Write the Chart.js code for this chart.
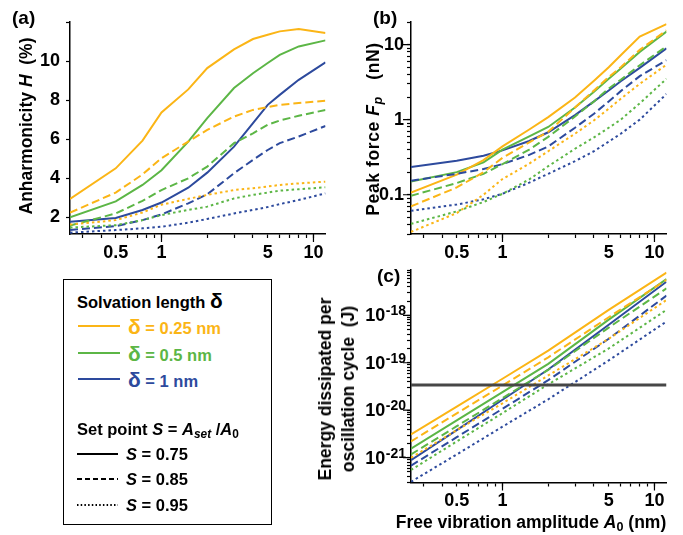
<!DOCTYPE html>
<html>
<head>
<meta charset="utf-8">
<script src="https://cdn.jsdelivr.net/npm/chart.js@4.4.1/dist/chart.umd.min.js"></script>
<style>
  body { margin: 0; background: #fff; }
  #page { position: relative; width: 683px; height: 535px; overflow: hidden;
          font-family: "Liberation Sans", Arial, Helvetica, sans-serif; font-weight: bold; color: #000; }
  canvas { position: absolute; }
  .t { position: absolute; white-space: nowrap; line-height: 1; transform: translate(0, -50%); }
  .c { transform: translate(-50%, -50%); }
  .rot { transform: translate(-50%, -50%) rotate(-90deg); text-align: center; }
  .panel { font-size: 19px; }
  .title { font-size: 17.5px; }
  .leg { font-size: 16.5px; }
  .dl { font-size: 21px; }
  sub { font-size: 72%; vertical-align: -3px; line-height: 0; }
  #legend { position: absolute; left: 63px; top: 279px; width: 209px; height: 246px;
            border: 1.5px solid #000; box-sizing: border-box; }
  svg.sample { position: absolute; overflow: visible; }
</style>
</head>
<body>
<div id="page">
  <canvas id="chartH" width="340" height="268" style="left:0;top:0"></canvas>
  <canvas id="chartF" width="343" height="268" style="left:340px;top:0"></canvas>
  <canvas id="chartE" width="343" height="287" style="left:340px;top:248px"></canvas>

  <div class="t panel" style="left:12px;top:17px">(a)</div>
  <div class="t panel" style="left:373px;top:17px">(b)</div>
  <div class="t panel" style="left:377px;top:275px">(c)</div>

  <div class="t title rot" style="left:27px;top:126px">Anharmonicity <i>H</i>&nbsp; (%)</div>
  <div class="t title rot" style="left:374px;top:129px;letter-spacing:0.6px">Peak force&nbsp;<i>F<sub>p</sub></i>&nbsp;&nbsp; (nN)</div>
  <div class="t title rot" style="left:337px;top:389px;line-height:23px">Energy dissipated per<br>oscillation cycle&nbsp; (J)</div>
  <div class="t title c" style="left:531px;top:523px">Free vibration amplitude <i>A</i><sub>0</sub> (nm)</div>

  <div id="legend"></div>
  <div class="t leg" style="left:77px;top:300px">Solvation length <span class="dl">&delta;</span></div>
  <svg class="sample" style="left:0;top:0" width="1" height="1">
    <line x1="78" y1="326" x2="120" y2="326" stroke="#FBB516" stroke-width="2"/>
    <line x1="78" y1="353" x2="120" y2="353" stroke="#5CB646" stroke-width="2"/>
    <line x1="78" y1="379" x2="120" y2="379" stroke="#2D4A9D" stroke-width="2"/>
    <line x1="77" y1="454" x2="118" y2="454" stroke="#000" stroke-width="2"/>
    <line x1="77" y1="479" x2="118" y2="479" stroke="#000" stroke-width="2" stroke-dasharray="5 3"/>
    <line x1="77" y1="505" x2="118" y2="505" stroke="#000" stroke-width="2" stroke-dasharray="1.5 2.2"/>
  </svg>
  <div class="t leg" style="left:128px;top:326px;color:#FBB516"><span class="dl">&delta;</span> = 0.25 nm</div>
  <div class="t leg" style="left:128px;top:353px;color:#5CB646"><span class="dl">&delta;</span> = 0.5 nm</div>
  <div class="t leg" style="left:128px;top:379px;color:#2D4A9D"><span class="dl">&delta;</span> = 1 nm</div>
  <div class="t leg" style="left:77px;top:429px">Set point <i>S</i> = <i>A<sub>set</sub></i> /<i>A</i><sub>0</sub></div>
  <div class="t leg" style="left:126px;top:454px"><i>S</i> = 0.75</div>
  <div class="t leg" style="left:126px;top:479px"><i>S</i> = 0.85</div>
  <div class="t leg" style="left:126px;top:505px"><i>S</i> = 0.95</div>
</div>

<script>
// free vibration amplitude A0 (nm) at which the curves are sampled
const amplitude = [0.25, 0.5, 0.75, 1, 1.5, 2, 3, 4, 5, 6, 8, 12];
const amplitudeEnergy = [0.25, 0.5, 1, 2, 5, 12];

// (a) anharmonicity H (%)
const H_d025_S075 = [2.94, 4.51, 5.93, 7.37, 8.55, 9.64, 10.6, 11.13, 11.35, 11.52, 11.64, 11.44];
const H_d05_S075  = [2.0, 2.82, 3.66, 4.41, 5.88, 7.08, 8.62, 9.38, 9.9, 10.32, 10.75, 11.06];
const H_d1_S075   = [1.78, 1.97, 2.38, 2.76, 3.52, 4.29, 5.62, 6.82, 7.76, 8.27, 9.04, 9.93];
const H_d025_S085 = [2.24, 3.27, 4.2, 5.03, 5.88, 6.48, 7.16, 7.5, 7.64, 7.76, 7.85, 7.97];
const H_d05_S085  = [1.58, 2.2, 2.85, 3.4, 4.0, 4.6, 5.8, 6.3, 6.74, 6.96, 7.2, 7.5];
const H_d1_S085   = [1.36, 1.55, 1.86, 2.15, 2.72, 3.18, 4.26, 4.94, 5.45, 5.8, 6.14, 6.68];
const H_d025_S095 = [1.63, 1.86, 2.25, 2.65, 2.95, 3.15, 3.4, 3.49, 3.58, 3.66, 3.74, 3.83];
const H_d05_S095  = [1.48, 1.6, 1.86, 2.12, 2.38, 2.55, 2.97, 3.15, 3.27, 3.37, 3.44, 3.54];
const H_d1_S095   = [1.22, 1.35, 1.44, 1.52, 1.73, 1.92, 2.2, 2.38, 2.53, 2.68, 2.89, 3.23];

// (b) peak force Fp (nN)
const F_d025_S075 = [0.107, 0.185, 0.29, 0.44, 0.74, 1.08, 1.97, 3.3, 5.0, 7.2, 12.8, 18.7];
const F_d05_S075  = [0.15, 0.2, 0.27, 0.40, 0.6, 0.8, 1.45, 2.35, 3.5, 4.8, 8.0, 14.9];
const F_d1_S075   = [0.234, 0.284, 0.33, 0.39, 0.52, 0.68, 1.15, 1.75, 2.45, 3.25, 4.9, 8.9];
const F_d025_S085 = [0.07, 0.125, 0.2, 0.31, 0.5, 0.69, 1.45, 2.45, 3.7, 5.0, 8.5, 15.5];
const F_d05_S085  = [0.097, 0.143, 0.19, 0.256, 0.4, 0.59, 1.1, 1.75, 2.6, 3.4, 5.3, 9.5];
const F_d1_S085   = [0.154, 0.19, 0.22, 0.256, 0.34, 0.44, 0.78, 1.2, 1.75, 2.4, 3.8, 6.2];
const F_d025_S095 = [0.032, 0.057, 0.1, 0.162, 0.26, 0.38, 0.65, 0.98, 1.4, 1.9, 3.0, 5.4];
const F_d05_S095  = [0.041, 0.06, 0.08, 0.103, 0.16, 0.24, 0.41, 0.58, 0.78, 1.0, 1.65, 3.5];
const F_d1_S095   = [0.061, 0.074, 0.087, 0.103, 0.145, 0.19, 0.28, 0.38, 0.51, 0.65, 1.0, 2.2];

// (c) energy dissipated per oscillation cycle (J)
const E_d025_S075 = [3.1e-21, 1.19e-20, 4.6e-20, 1.8e-19, 1.3e-18, 7.9e-18];
const E_d05_S075  = [1.55e-21, 6.1e-21, 2.4e-20, 9.5e-20, 8.1e-19, 5.8e-18];
const E_d1_S075   = [8.9e-22, 3.8e-21, 1.66e-20, 7.2e-20, 6.3e-19, 5.1e-18];
const E_d025_S085 = [2.2e-21, 8.6e-21, 3.3e-20, 1.3e-19, 9.1e-19, 5.6e-18];
const E_d05_S085  = [1.17e-21, 4.6e-21, 1.8e-20, 7.1e-20, 5.5e-19, 3.7e-18];
const E_d1_S085   = [6.8e-22, 2.7e-21, 1.07e-20, 4.3e-20, 3.2e-19, 2.6e-18];
const E_d025_S095 = [1.0e-21, 3.8e-21, 1.4e-20, 5.4e-20, 3.2e-19, 2.1e-18];
const E_d05_S095  = [5.5e-22, 2.2e-21, 8.7e-21, 3.5e-20, 2.0e-19, 1.3e-18];
const E_d1_S095   = [3.1e-22, 1.17e-21, 4.5e-21, 1.7e-20, 1.12e-19, 7.4e-19];
const energyLevel = 3.4e-20;   // horizontal reference line

// axis ticks and labels
const amplitudeTicks = [0.3, 0.4, 0.5, 0.6, 0.7, 0.8, 0.9, 1, 2, 3, 4, 5, 6, 7, 8, 9, 10];
const amplitudeTickLabels = [0.5, 1, 5, 10];
const hTicks = [2, 4, 6, 8, 10, 12];
const hTickLabels = [2, 4, 6, 8, 10];
const forceTicks = [0.03, 0.04, 0.05, 0.06, 0.07, 0.08, 0.09, 0.1, 0.2, 0.3, 0.4, 0.5, 0.6, 0.7, 0.8, 0.9,
                    1, 2, 3, 4, 5, 6, 7, 8, 9, 10, 20];
const forceTickLabels = [0.1, 1, 10];
const energyTickLabels = [1e-21, 1e-20, 1e-19, 1e-18];

const FONT = '"Liberation Sans", Arial, Helvetica, sans-serif';
const YELLOW = '#FBB516', GREEN = '#5CB646', BLUE = '#2D4A9D';
const SOLID = [], DASHED = [8, 4], DOTTED = [2.5, 3];

// minor ticks of the energy axis: 1..9 x 10^n inside the axis range
const energyMin = 3e-22, energyMax = 9e-18;
const energyTicks = [];
for (let e = -22; e <= -18; e++) {
  for (let m = 1; m <= 9; m++) {
    const v = m * Math.pow(10, e);
    if (v >= energyMin * 0.999 && v <= energyMax * 1.001) energyTicks.push(v);
  }
}

function isDecade(v) {
  const l = Math.log10(v);
  return Math.abs(l - Math.round(l)) < 1e-6;
}

function line(xs, ys, color, dash) {
  return {
    data: xs.map((x, i) => ({ x: x, y: ys[i] })),
    borderColor: color,
    borderWidth: 2,
    borderDash: dash,
    borderCapStyle: 'butt',
    pointRadius: 0,
    fill: false,
    tension: 0
  };
}

function tickFont() {
  return { family: FONT, size: 18, weight: 'bold' };
}

// longer tick marks at the decades of log axes
const majorTickPlugin = {
  id: 'majorTicks',
  afterDraw(chart) {
    const ctx = chart.ctx, x = chart.scales.x, y = chart.scales.y;
    ctx.save();
    ctx.strokeStyle = '#000';
    ctx.lineWidth = 1.2;
    ctx.beginPath();
    x.ticks.forEach(t => {
      if (isDecade(t.value)) {
        const px = x.getPixelForValue(t.value);
        ctx.moveTo(px, x.top);
        ctx.lineTo(px, x.top + 8);
      }
    });
    if (y.type === 'logarithmic') {
      y.ticks.forEach(t => {
        if (isDecade(t.value)) {
          const py = y.getPixelForValue(t.value);
          ctx.moveTo(y.right, py);
          ctx.lineTo(y.right - 8, py);
        }
      });
    }
    ctx.stroke();
    ctx.restore();
  }
};

function makeChart(id, datasets, cfg) {
  return new Chart(document.getElementById(id), {
    type: 'line',
    data: { datasets: datasets },
    options: {
      responsive: false,
      animation: false,
      layout: { padding: cfg.padding },
      plugins: { legend: { display: false }, tooltip: { enabled: false } },
      scales: {
        x: {
          type: 'logarithmic',
          min: 0.25,
          max: 12,
          afterBuildTicks: s => { s.ticks = amplitudeTicks.map(v => ({ value: v })); },
          afterFit: s => { s.height = cfg.xHeight; },
          border: { display: true, color: '#000', width: 1.5 },
          grid: { drawOnChartArea: false, drawTicks: true, tickLength: 4, tickColor: '#000', tickWidth: 1.2 },
          ticks: {
            autoSkip: false, maxRotation: 0, padding: 4, color: '#000', font: tickFont(),
            callback: v => amplitudeTickLabels.includes(v) ? String(v) : ''
          }
        },
        y: {
          type: cfg.yType,
          min: cfg.yMin,
          max: cfg.yMax,
          afterBuildTicks: s => { s.ticks = cfg.yTicks.map(v => ({ value: v })); },
          afterFit: s => { s.width = cfg.yWidth; },
          border: { display: true, color: '#000', width: 1.5 },
          grid: { drawOnChartArea: false, drawTicks: true, tickLength: 4, tickColor: '#000', tickWidth: 1.2 },
          ticks: {
            autoSkip: false, padding: cfg.yPad, color: '#000', font: tickFont(),
            callback: v => cfg.yLabels.includes(v) ? String(v) : ''
          }
        }
      }
    },
    plugins: [majorTickPlugin].concat(cfg.plugins || [])
  });
}

// (a)
makeChart('chartH', [
  line(amplitude, H_d025_S095, YELLOW, DOTTED),
  line(amplitude, H_d05_S095, GREEN, DOTTED),
  line(amplitude, H_d1_S095, BLUE, DOTTED),
  line(amplitude, H_d025_S085, YELLOW, DASHED),
  line(amplitude, H_d05_S085, GREEN, DASHED),
  line(amplitude, H_d1_S085, BLUE, DASHED),
  line(amplitude, H_d025_S075, YELLOW, SOLID),
  line(amplitude, H_d05_S075, GREEN, SOLID),
  line(amplitude, H_d1_S075, BLUE, SOLID)
], {
  padding: { left: 0, top: 22, right: 14.5, bottom: 0 },
  xHeight: 34, yWidth: 70, yPad: 6,
  yType: 'linear', yMin: 1.15, yMax: 12, yTicks: hTicks, yLabels: hTickLabels
});

// (b)
makeChart('chartF', [
  line(amplitude, F_d025_S095, YELLOW, DOTTED),
  line(amplitude, F_d05_S095, GREEN, DOTTED),
  line(amplitude, F_d1_S095, BLUE, DOTTED),
  line(amplitude, F_d025_S085, YELLOW, DASHED),
  line(amplitude, F_d05_S085, GREEN, DASHED),
  line(amplitude, F_d1_S085, BLUE, DASHED),
  line(amplitude, F_d025_S075, YELLOW, SOLID),
  line(amplitude, F_d05_S075, GREEN, SOLID),
  line(amplitude, F_d1_S075, BLUE, SOLID)
], {
  padding: { left: 0, top: 22, right: 16.5, bottom: 0 },
  xHeight: 34, yWidth: 71, yPad: 3,
  yType: 'logarithmic', yMin: 0.03, yMax: 20, yTicks: forceTicks, yLabels: forceTickLabels
});

// (c) y labels as 10 with a raised exponent
const energyLabelPlugin = {
  id: 'energyLabels',
  afterDraw(chart) {
    const s = chart.scales.y, ctx = chart.ctx;
    ctx.save();
    ctx.fillStyle = '#000';
    ctx.textBaseline = 'middle';
    ctx.textAlign = 'right';
    energyTickLabels.forEach(v => {
      const y = s.getPixelForValue(v);
      const exp = String(Math.round(Math.log10(v)));
      const right = s.right - 5;
      ctx.font = 'bold 14px ' + FONT;
      const ew = ctx.measureText(exp).width;
      ctx.fillText(exp, right, y - 4);
      ctx.font = 'bold 18px ' + FONT;
      ctx.fillText('10', right - ew - 0.5, y + 1);
    });
    ctx.restore();
  }
};

const levelLine = line([0.25, 12], [energyLevel, energyLevel], '#474747', SOLID);
levelLine.borderWidth = 3;
levelLine.order = -1;

makeChart('chartE', [
  line(amplitudeEnergy, E_d025_S095, YELLOW, DOTTED),
  line(amplitudeEnergy, E_d05_S095, GREEN, DOTTED),
  line(amplitudeEnergy, E_d1_S095, BLUE, DOTTED),
  line(amplitudeEnergy, E_d025_S085, YELLOW, DASHED),
  line(amplitudeEnergy, E_d05_S085, GREEN, DASHED),
  line(amplitudeEnergy, E_d1_S085, BLUE, DASHED),
  line(amplitudeEnergy, E_d025_S075, YELLOW, SOLID),
  line(amplitudeEnergy, E_d05_S075, GREEN, SOLID),
  line(amplitudeEnergy, E_d1_S075, BLUE, SOLID),
  levelLine
], {
  padding: { left: 0, top: 22, right: 16.5, bottom: 0 },
  xHeight: 52.5, yWidth: 71, yPad: 2,
  yType: 'logarithmic', yMin: energyMin, yMax: energyMax, yTicks: energyTicks, yLabels: [],
  plugins: [energyLabelPlugin]
});
</script>
</body>
</html>
